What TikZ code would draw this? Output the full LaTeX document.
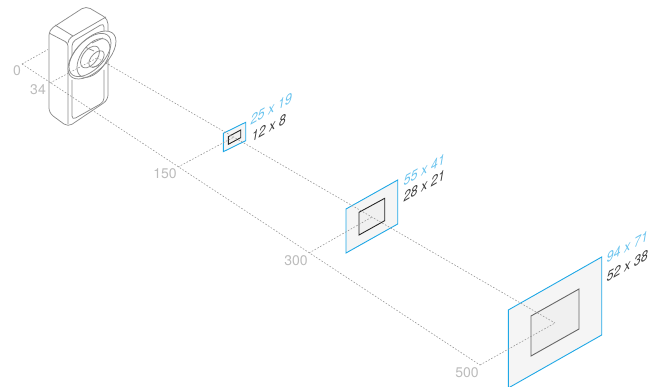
\documentclass[tikz,border=0pt]{standalone}
\usepackage{fontspec}
\setmainfont{TeX Gyre Heros}
\definecolor{fovblue}{HTML}{1FA8E6}
\definecolor{fovtext}{HTML}{6CC4EE}
\definecolor{tickgray}{HTML}{BBBBBB}
\definecolor{bodygray}{HTML}{8C8C8C}
\tikzset{
  axisline/.style={draw=black!40, line width=0.6pt, dash pattern=on 1.6pt off 1.6pt},
  outerfov/.style={draw=fovblue, fill=black!4, line width=0.9pt},
  innerfov/.style={draw=black!85, fill=black!6, line width=0.9pt},
  tick/.style={text=tickgray, font=\fontsize{14}{15}\selectfont},
  dimlabel/.style={anchor=base west, inner sep=0pt, cm={1,0.57,0.2,1.2,(0,0)}, transform shape, font=\fontsize{12.5}{13}\selectfont},
  bodyline/.style={draw=bodygray, line width=0.75pt, line join=round},
  lensring/.style={shift={#1}, yslant=0.57},
}
\begin{document}
\begin{tikzpicture}[x=1pt, y=-1pt]
  \useasboundingbox (0,0) rectangle (661,387);

  % outer and inner field of view
  \draw[outerfov] (223.3,133.3) -- (245.7,122.3) -- (245.7,140.7) -- (223.3,151.7) -- cycle;
  \draw[innerfov] (228.3,136.7) -- (240.7,130) -- (240.7,137.7) -- (228.3,144.3) -- cycle;
  \draw[outerfov] (346,209) -- (397.7,180) -- (397.7,224) -- (346,253) -- cycle;
  \draw[innerfov] (359,212.3) -- (384.7,198.3) -- (384.7,220.7) -- (359,235) -- cycle;
  \draw[outerfov] (508.3,310) -- (601.7,257) -- (601.7,335) -- (508.3,388) -- cycle;
  \draw[innerfov, draw=black!60] (531,316) -- (579,289) -- (579,329) -- (531,356) -- cycle;

  % distance lines
  \coordinate (d0) at (22,64);
  \coordinate (d34) at (50,83);
  \coordinate (d150) at (178,167);
  \coordinate (d300) at (309,253);
  \coordinate (d500) at (480,365);
  \coordinate (lens) at (97,58);
  \coordinate (c150) at (234,137);
  \coordinate (c300) at (372,217);
  \coordinate (c500) at (555,323);
  \draw[axisline] (d0) -- (d500);
  \draw[axisline] (d0) -- (48,49.5);
  \draw[axisline] (lens) -- (c500);
  \draw[axisline] (d150) -- (c150);
  \draw[axisline] (d300) -- (c300);
  \draw[axisline] (d500) -- (c500);

  % camera body
  \draw[bodyline, rounded corners=5pt] (49,113) -- (49,30) -- (86,6) -- (108,19) -- (108,100) -- (68,127) -- cycle;
  \draw[bodyline, rounded corners=3pt] (49,33) -- (68,43) -- (68,124);
  \draw[bodyline, rounded corners=4pt] (68,43) -- (68,39) -- (106,17);
  \draw[bodyline] (55,25) -- (73,36);
  \draw[bodyline, rounded corners=4pt] (72,80) -- (72,120) -- (104,102) -- (104,70);
  \draw[bodyline, rounded corners=4pt] (72,55) -- (72,42) -- (104,23) -- (104,40);

  % lens
  \draw[bodyline, fill=white, lensring={(92,55)}] (0,0) ellipse [x radius=24, y radius=19.7];
  \draw[bodyline, lensring={(90,55)}] (0,0) ellipse [x radius=21, y radius=18];
  \draw[bodyline, lensring={(93.5,58)}] (0,0) ellipse [x radius=16.5, y radius=17];
  \draw[bodyline, lensring={(90,57)}] (0,0) ellipse [x radius=9.5, y radius=9.5];
  \draw[bodyline, lensring={(96.5,59)}] (0,0) ellipse [x radius=7.7, y radius=7];
  \draw[bodyline] (86,47.5) -- (94,51);
  \draw[bodyline] (92,67.5) -- (99,65.5);
  \draw[bodyline] (92,43) -- (103,38);
  \draw[axisline] (d34) -- (lens);
  \draw[axisline] (lens) -- (110,65);

  % distances
  \node[tick] (t0) at (17,71) {0};
  \node[tick] (t34) at (38,90) {34};
  \node[tick] (t150) at (165,174) {150};
  \node[tick] (t300) at (296,261) {300};
  \node[tick] (t500) at (467,373) {500};

  % sizes
  \node[dimlabel, text=fovtext] (a150) at (250,126) {25 x 19};
  \node[dimlabel, text=black!75] (b150) at (251,143) {12 x 8};
  \node[dimlabel, text=fovtext] (a300) at (403,187) {55 x 41};
  \node[dimlabel, text=black!75] (b300) at (403,203) {28 x 21};
  \node[dimlabel, text=fovtext] (a500) at (606,264) {94 x 71};
  \node[dimlabel, text=black!75] (b500) at (606,283) {52 x 38};
\end{tikzpicture}
\end{document}
